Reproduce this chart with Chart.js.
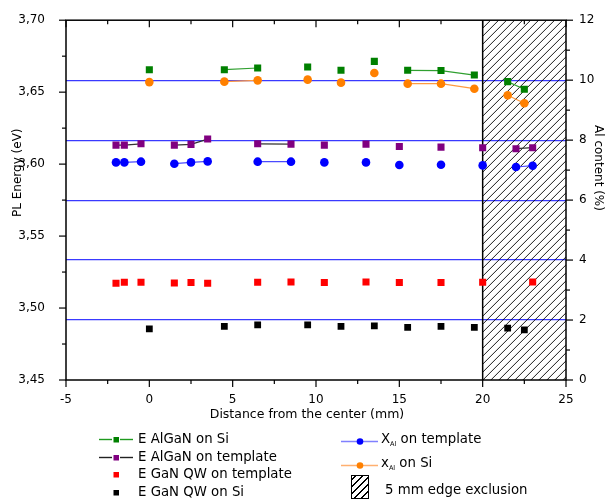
<!DOCTYPE html>
<html>
<head>
<meta charset="utf-8">
<script src="https://cdn.jsdelivr.net/npm/chart.js@4.4.1/dist/chart.umd.min.js"></script>
<style>
  body { margin: 0; background: #fff; font-family: 'DejaVu Sans', sans-serif; color: #000; }
  #wrap { position: relative; width: 614px; height: 499px; overflow: hidden; }
  #chart { position: absolute; left: 0; top: 0; }
  .title { position: absolute; white-space: nowrap; line-height: 14px; font-size: 12px; text-align: center; }
  .item { position: absolute; height: 18px; line-height: 18px; white-space: nowrap; display: flex; align-items: center; font-size: 13.3px; }
  .item svg { flex: none; }
  .hatch { position: absolute; left: 351px; top: 475px; width: 16px; height: 22px; border: 1px solid #000;
           background: repeating-linear-gradient(-45deg, #fff 0 4px, #000 4px 5px); }
  sub { font-size: 6.5px; vertical-align: -3px; }
</style>
</head>
<body>
<div id="wrap">
  <canvas id="chart" width="614" height="499"></canvas>

  <div class="title" style="left:-26px;top:167px;transform:rotate(-90deg);width:86px">PL Energy (eV)</div>
  <div class="title" style="left:556px;top:161px;transform:rotate(90deg);width:86px">Al content (%)</div>
  <div class="title" style="left:157px;top:407px;width:300px;font-size:12.5px">Distance from the center (mm)</div>

  <!-- legend, left column -->
  <div class="item" style="left:99px;top:430px">
    <svg width="34" height="18"><line x1="0" y1="9.5" x2="13" y2="9.5" stroke="#1f9a1f" stroke-width="1.4"/><line x1="21" y1="9.5" x2="34" y2="9.5" stroke="#1f9a1f" stroke-width="1.4"/><rect x="14.5" y="7" width="5.5" height="5.5" fill="#008000"/></svg>
    <span style="margin-left:5px">E AlGaN on Si</span>
  </div>
  <div class="item" style="left:99px;top:448px">
    <svg width="34" height="18"><line x1="0" y1="9.5" x2="13" y2="9.5" stroke="#222" stroke-width="1.4"/><line x1="21" y1="9.5" x2="34" y2="9.5" stroke="#222" stroke-width="1.4"/><rect x="14.5" y="7" width="5.5" height="5.5" fill="#800080"/></svg>
    <span style="margin-left:5px">E AlGaN on template</span>
  </div>
  <div class="item" style="left:99px;top:465px">
    <svg width="34" height="18"><rect x="14.5" y="7" width="5.5" height="5.5" fill="#ff0000"/></svg>
    <span style="margin-left:5px">E GaN QW on template</span>
  </div>
  <div class="item" style="left:99px;top:483px">
    <svg width="34" height="18"><rect x="14.5" y="7" width="5.5" height="5.5" fill="#000"/></svg>
    <span style="margin-left:5px">E GaN QW on Si</span>
  </div>

  <!-- legend, right column -->
  <div class="item" style="left:341px;top:432px">
    <svg width="37" height="18"><line x1="0" y1="9.5" x2="37" y2="9.5" stroke="#8080ff" stroke-width="1.5"/><circle cx="19" cy="9.5" r="3.3" fill="#0000ff"/></svg>
    <span style="margin-left:3px">X<sub>Al</sub> on template</span>
  </div>
  <div class="item" style="left:341px;top:456px">
    <svg width="37" height="18"><line x1="0" y1="9.5" x2="37" y2="9.5" stroke="#ffb070" stroke-width="1.5"/><circle cx="19" cy="9.5" r="3.3" fill="#ff8000"/></svg>
    <span style="margin-left:3px">x<sub>Al</sub> on Si</span>
  </div>
  <div class="hatch"></div>
  <div class="item" style="left:385px;top:481px"><span>5 mm edge exclusion</span></div>
</div>

<script>
// positions (mm) of the samples on Si and on template
const posSi  = [0, 4.5, 6.5, 9.5, 11.5, 13.5, 15.5, 17.5, 19.5, 21.5, 22.5];
const posTpl = [-2, -1.5, -0.5, 1.5, 2.5, 3.5, 6.5, 8.5, 10.5, 13, 15, 17.5, 20, 22, 23];

// energies (eV)
const eAlGaNSi  = [3.6656, 3.6656, 3.6668, 3.6675, 3.6652, 3.6714, 3.6652, 3.6650, 3.6619, 3.6573, 3.6520];
const xAlSi     = [3.6570, 3.6573, 3.6582, 3.6587, 3.6566, 3.6633, 3.6559, 3.6559, 3.6524, 3.6478, 3.6423];
const eGaNSi    = [3.4855, 3.4872, 3.4883, 3.4883, 3.4872, 3.4876, 3.4865, 3.4872, 3.4865, 3.4860, 3.4848];
const eAlGaNTpl = [3.6132, 3.6132, 3.6141, 3.6132, 3.6137, 3.6174, 3.6141, 3.6139, 3.6132, 3.6139, 3.6123, 3.6118, 3.6114, 3.6107, 3.6114];
const xAlTpl    = [3.6012, 3.6012, 3.6017, 3.6003, 3.6012, 3.6019, 3.6017, 3.6017, 3.6012, 3.6012, 3.5994, 3.5996, 3.5991, 3.5980, 3.5989];
const eGaNTpl   = [3.5172, 3.5179, 3.5179, 3.5174, 3.5177, 3.5172, 3.5179, 3.5181, 3.5177, 3.5181, 3.5177, 3.5177, 3.5179, null, 3.5181];

// which neighbouring points are joined by a line (same group id = joined)
const runsSi  = [0, 1, 1, 2, 3, 4, 5, 5, 5, 6, 6];
const runsTpl = [0, 0, 0, 1, 1, 1, 2, 2, 3, 4, 5, 6, 7, 8, 8];

// axes
const X_MIN = -5, X_MAX = 25;
const Y_MIN = 3.45, Y_MAX = 3.70;
const AL_MIN = 0, AL_MAX = 12;
const EXCL_FROM = 20, EXCL_TO = 25;

const FONT = { family: 'DejaVu Sans', size: 12 };
Chart.defaults.font = FONT;
Chart.defaults.color = '#000';

const pts = (xs, ys) => xs.map((x, i) => ({ x, y: ys[i] }));
const joined = (runs, col) => c => runs[c.p0DataIndex] === runs[c.p1DataIndex] ? col : 'transparent';

function series(label, xs, ys, marker, style, radius, lineCol, runs) {
  return {
    label, data: pts(xs, ys),
    pointStyle: style, pointRadius: radius, pointHoverRadius: radius,
    backgroundColor: marker, borderColor: marker, pointBorderWidth: 0,
    showLine: !!lineCol, borderWidth: 1.2, spanGaps: false,
    segment: lineCol ? { borderColor: joined(runs, lineCol) } : undefined,
    yAxisID: 'y',
  };
}

// hatched edge-exclusion band, drawn under the points
const exclusion = {
  id: 'exclusion',
  beforeDatasetsDraw(chart) {
    const { ctx, chartArea: a, scales: { x } } = chart;
    const l = x.getPixelForValue(EXCL_FROM), r = x.getPixelForValue(EXCL_TO);
    const h = a.bottom - a.top;
    ctx.save();
    ctx.beginPath(); ctx.rect(l, a.top, r - l, h); ctx.clip();
    ctx.strokeStyle = '#000'; ctx.lineWidth = 0.9;
    ctx.beginPath();
    for (let k = -h; k < r - l + 8; k += 8) {
      ctx.moveTo(l + k, a.bottom);
      ctx.lineTo(l + k + h, a.top);
    }
    ctx.stroke();
    ctx.restore();
    ctx.save();
    ctx.strokeStyle = '#000'; ctx.lineWidth = 1.5;
    ctx.beginPath(); ctx.moveTo(l, a.top); ctx.lineTo(l, a.bottom); ctx.stroke();
    ctx.restore();
  }
};

// frame and Origin-style major/minor tick marks
const frameTicks = {
  id: 'frameTicks',
  afterDatasetsDraw(chart) {
    const { ctx, chartArea: a, scales } = chart;
    ctx.save();
    ctx.strokeStyle = '#000';
    ctx.lineWidth = 1.5;
    ctx.strokeRect(a.left, a.top, a.right - a.left, a.bottom - a.top);
    ctx.lineWidth = 1.2;
    const mark = (x1, y1, x2, y2) => { ctx.beginPath(); ctx.moveTo(x1, y1); ctx.lineTo(x2, y2); ctx.stroke(); };

    for (let i = 0; i <= (X_MAX - X_MIN) / 2.5; i++) {
      const px = scales.x.getPixelForValue(X_MIN + i * 2.5);
      const len = i % 2 === 0 ? 7 : 4;
      mark(px, a.bottom, px, a.bottom + len);
      mark(px, a.top, px, a.top + len);
    }
    for (let i = 0; i <= Math.round((Y_MAX - Y_MIN) / 0.025); i++) {
      const py = scales.y.getPixelForValue(Y_MIN + i * 0.025);
      const len = i % 2 === 0 ? 7 : 4;
      mark(a.left - len, py, a.left, py);
    }
    for (let v = AL_MIN; v <= AL_MAX; v++) {
      const py = scales.y2.getPixelForValue(v);
      const len = v % 2 === 0 ? 7 : 4;
      mark(a.right, py, a.right + len, py);
    }
    ctx.restore();
  }
};

new Chart(document.getElementById('chart'), {
  type: 'scatter',
  data: {
    datasets: [
      series('E AlGaN on Si',        posSi,  eAlGaNSi,  '#008000', 'rect',   5,   '#30a030', runsSi),
      series('x_Al on Si',           posSi,  xAlSi,     '#ff8000', 'circle', 4.3, '#ff9a40', runsSi),
      series('E AlGaN on template',  posTpl, eAlGaNTpl, '#800080', 'rect',   5,   '#333333', runsTpl),
      series('X_Al on template',     posTpl, xAlTpl,    '#0000ff', 'circle', 4.3, '#4a4aff', runsTpl),
      series('E GaN QW on template', posTpl, eGaNTpl,   '#ff0000', 'rect',   5,   null, null),
      series('E GaN QW on Si',       posSi,  eGaNSi,    '#000000', 'rect',   4.8, null, null),
    ]
  },
  options: {
    responsive: false,
    animation: false,
    layout: { padding: { top: 19, bottom: 77, left: 0, right: 0 } },
    plugins: { legend: { display: false }, tooltip: { enabled: false } },
    scales: {
      x: {
        type: 'linear', position: 'bottom', min: X_MIN, max: X_MAX,
        afterFit: s => { s.height = 42; },
        grid: { display: false }, border: { display: false },
        ticks: { stepSize: 5, padding: 5, font: FONT },
      },
      y: {
        type: 'linear', position: 'left', min: Y_MIN, max: Y_MAX,
        afterFit: s => { s.width = 66; },
        grid: { display: false }, border: { display: false },
        ticks: { stepSize: 0.05, padding: 13, font: FONT, callback: v => v.toFixed(2).replace('.', ',') },
      },
      y2: {
        type: 'linear', position: 'right', min: AL_MIN, max: AL_MAX,
        afterFit: s => { s.width = 48; },
        grid: {
          display: true, drawTicks: false, lineWidth: 1.2,
          color: c => (c.tick && (c.tick.value === AL_MIN || c.tick.value === AL_MAX)) ? 'transparent' : '#3a3aff',
        },
        border: { display: false },
        ticks: { stepSize: 2, padding: 13, font: FONT },
      },
    },
  },
  plugins: [exclusion, frameTicks],
});
</script>
</body>
</html>
